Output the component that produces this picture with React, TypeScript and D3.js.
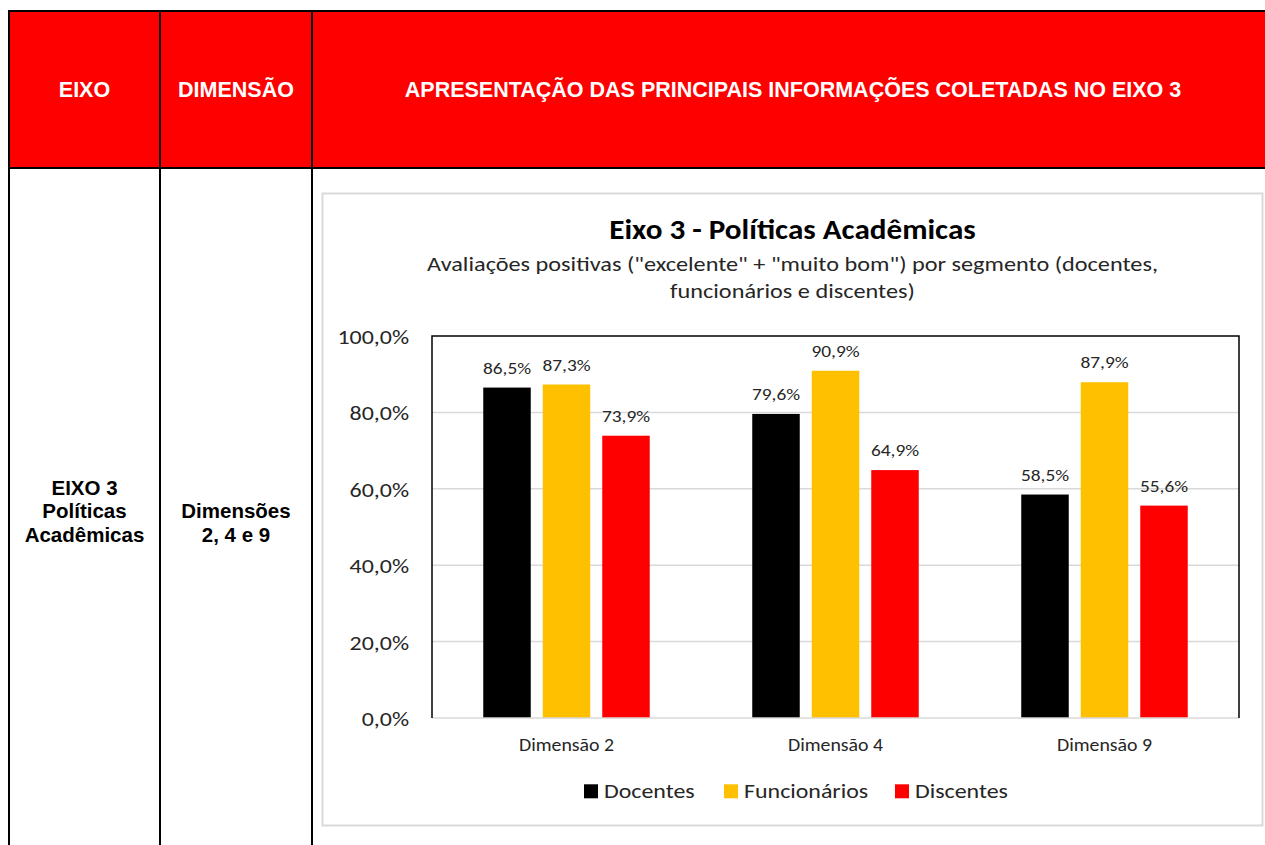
import React from "react";
import * as d3 from "d3";

const categories = ["Dimensão 2", "Dimensão 4", "Dimensão 9"];
const seriesNames = ["Docentes", "Funcionários", "Discentes"];
const seriesColors = ["#000000", "#FFC000", "#FF0000"];
const docentes = [86.5, 79.6, 58.5];
const funcionarios = [87.3, 90.9, 87.9];
const discentes = [73.9, 64.9, 55.6];
const yTicks = [0, 20, 40, 60, 80, 100];

const headerLabels = ["EIXO", "DIMENSÃO", "APRESENTAÇÃO DAS PRINCIPAIS INFORMAÇÕES COLETADAS NO EIXO 3"];
const eixoLines = ["EIXO 3", "Políticas", "Acadêmicas"];
const dimLines = ["Dimensões", "2, 4 e 9"];
const chartTitle = "Eixo 3 - Políticas Acadêmicas";
const subtitleLines = [
  "Avaliações positivas (\"excelente\" + \"muito bom\") por segmento (docentes,",
  "funcionários e discentes)",
];

const fmt = (v: number) => v.toFixed(1).replace(".", ",") + "%";

const chartFont = "Carlito, Calibri, 'Open Sans', sans-serif";
const SX = 1.14;

function T(props: { x: number; y: number; size: number; anchor?: string; bold?: boolean; fill?: string; children: React.ReactNode }) {
  const { x, y, size, anchor = "middle", bold = false, fill = "#262626", children } = props;
  return (
    <g transform={`translate(${x},${y}) scale(${SX},1)`}>
      <text x={0} y={0} textAnchor={anchor as any} fontFamily={chartFont} fontWeight={bold ? "bold" : "normal"}
        fontSize={size} fill={fill}>{children}</text>
    </g>
  );
}

export default function App() {
  const W = 1265, H = 845;
  const tableFont = "'Liberation Sans', Arial, sans-serif";
  const seriesValues = [docentes, funcionarios, discentes];

  const plot = { left: 432, right: 1239, top: 336, bottom: 718 };
  const x0 = d3.scaleBand<string>().domain(categories).range([plot.left, plot.right]).paddingInner(0).paddingOuter(0);
  const y = d3.scaleLinear().domain([0, 100]).range([plot.bottom, plot.top]);
  const barW = 47.5;
  const step = 59.5;

  const colX = [9, 160, 312, 1274];
  const headTop = 11, headBot = 168;
  const legendX = [584, 724, 895];

  return (
    <div style={{ position: "absolute", left: 0, top: 0 }}>
      <svg width={W} height={H} style={{ display: "block" }}>
        <rect x={0} y={0} width={W} height={H} fill="#fff" />
        {/* header */}
        <rect x={colX[0]} y={headTop} width={colX[3] - colX[0]} height={headBot - headTop} fill="#FF0000" />
        {headerLabels.map((t, i) => (
          <text key={t} x={(colX[i] + colX[i + 1]) / 2} y={97.3} textAnchor="middle"
            fill="#fff" fontFamily={tableFont} fontWeight="bold" fontSize={21.5}>{t}</text>
        ))}
        {/* table lines */}
        <g stroke="#000" strokeWidth={2}>
          <line x1={colX[0] - 1} x2={W + 20} y1={headTop} y2={headTop} />
          <line x1={colX[0] - 1} x2={W + 20} y1={headBot} y2={headBot} />
          {colX.map((cx) => (
            <line key={cx} x1={cx} x2={cx} y1={headTop} y2={H + 10} />
          ))}
        </g>
        {eixoLines.map((t, i) => (
          <text key={t} x={(colX[0] + colX[1]) / 2} y={495 + i * 23.4} textAnchor="middle" fill="#000"
            fontFamily={tableFont} fontWeight="bold" fontSize={20.5}>{t}</text>
        ))}
        {dimLines.map((t, i) => (
          <text key={t} x={(colX[1] + colX[2]) / 2} y={518.4 + i * 23.4} textAnchor="middle" fill="#000"
            fontFamily={tableFont} fontWeight="bold" fontSize={20.5}>{t}</text>
        ))}

        {/* chart area */}
        <rect x={322.5} y={193.5} width={940} height={632} fill="#fff" stroke="#D9D9D9" strokeWidth={2} />
        <T x={792.5} y={239} size={27.3} bold fill="#000">{chartTitle}</T>
        {subtitleLines.map((t, i) => (
          <T key={i} x={792.5} y={271 + i * 27.3} size={21.3}>{t}</T>
        ))}

        {/* gridlines + y ticks */}
        {yTicks.map((t) => (
          <g key={t}>
            {t > 0 && t < 100 && (
              <line x1={plot.left} x2={plot.right} y1={y(t)} y2={y(t)} stroke="#D9D9D9" strokeWidth={1.5} />
            )}
            <T x={409} y={y(t) + 8} size={21} anchor="end">{fmt(t)}</T>
          </g>
        ))}
        {/* bars */}
        {categories.map((c, ci) => {
          const cx = (x0(c) ?? 0) + x0.bandwidth() / 2;
          return (
            <g key={c}>
              {seriesValues.map((vals, si) => {
                const bx = cx + (si - 1) * step - barW / 2;
                return (
                  <g key={si}>
                    <rect x={bx} y={y(vals[ci])} width={barW} height={y(0) - y(vals[ci])} fill={seriesColors[si]} />
                    <T x={bx + barW / 2} y={y(vals[ci]) - 14} size={17}>{fmt(vals[ci])}</T>
                  </g>
                );
              })}
              <T x={cx} y={751} size={17.4}>{c}</T>
            </g>
          );
        })}
        {/* plot border */}
        <line x1={plot.left} x2={plot.right} y1={plot.bottom} y2={plot.bottom} stroke="#D9D9D9" strokeWidth={1.5} />
        <path d={`M${plot.left},${plot.bottom}V${plot.top}H${plot.right}V${plot.bottom}`} fill="none" stroke="#000" strokeWidth={1.5} />

        {/* legend */}
        {legendX.map((lx, i) => (
          <g key={i}>
            <rect x={lx} y={784.3} width={14} height={14} fill={seriesColors[i]} />
            <T x={lx + 20} y={798.3} size={21} anchor="start">{seriesNames[i]}</T>
          </g>
        ))}
      </svg>
    </div>
  );
}
